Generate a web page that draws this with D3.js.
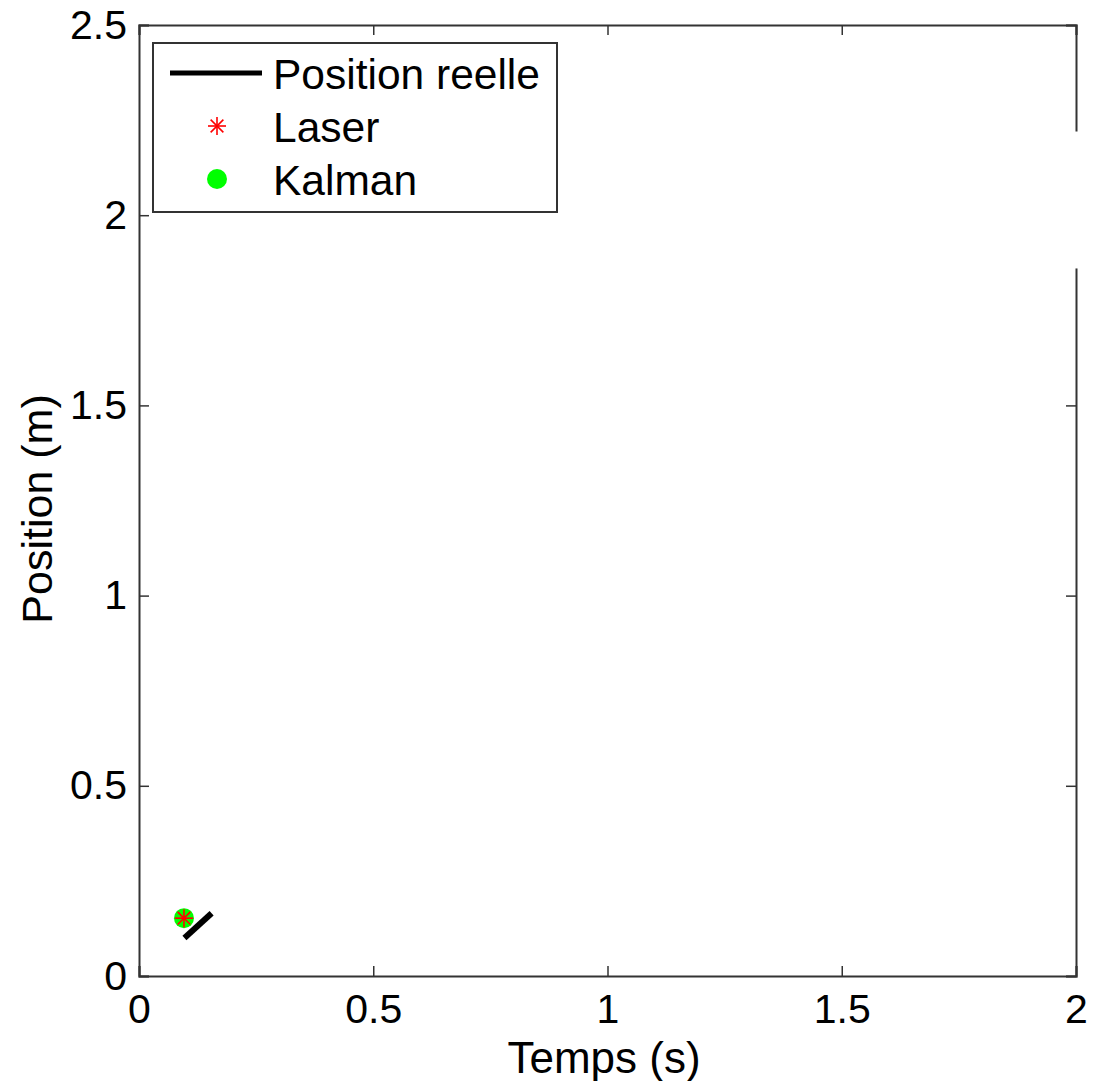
<!DOCTYPE html>
<html>
<head>
<meta charset="utf-8">
<script src="https://cdn.jsdelivr.net/npm/d3@7"></script>
<style>
  body { margin: 0; background: #fff; }
  text { font-family: "Liberation Sans", Arial, sans-serif; }
</style>
</head>
<body>
<div id="chart"></div>
<script>
// data
var reelTime = [0.097, 0.155];
var reelPos = [0.100, 0.165];
var laserTime = [0.096];
var laserPos = [0.152];
var kalmanTime = [0.096];
var kalmanPos = [0.152];

var xTicks = [0, 0.5, 1, 1.5, 2];
var yTicks = [0, 0.5, 1, 1.5, 2, 2.5];
var legendNames = ["Position reelle", "Laser", "Kalman"];

// set-up
var W = 1101, H = 1081;
var margin = {left: 139, top: 25, right: 25, bottom: 105};
var width = W - margin.left - margin.right,
    height = H - margin.top - margin.bottom;
var axisColor = "#333";

var x = d3.scaleLinear().domain([0, 2]).range([0, width]);
var y = d3.scaleLinear().domain([0, 2.5]).range([height, 0]);

var svg = d3.select("#chart").append("svg")
  .attr("width", W).attr("height", H);
var g = svg.append("g")
  .attr("transform", "translate(" + margin.left + "," + margin.top + ")");

// axes (MATLAB style box, ticks inside)
var tickLen = 10;
g.append("g").attr("transform", "translate(0," + height + ")")
  .call(d3.axisBottom(x).tickValues(xTicks).tickSize(-tickLen).tickPadding(18).tickFormat(d3.format("")))
  .call(styleAxis);
g.append("g")
  .call(d3.axisTop(x).tickValues(xTicks).tickSize(-tickLen).tickFormat(""))
  .call(styleAxis);
g.append("g")
  .call(d3.axisLeft(y).tickValues(yTicks).tickSize(-tickLen).tickPadding(12).tickFormat(d3.format("")))
  .call(styleAxis);
g.append("g").attr("transform", "translate(" + width + ",0)")
  .call(d3.axisRight(y).tickValues(yTicks).tickSize(-tickLen).tickFormat(""))
  .call(styleAxis);

function styleAxis(sel) {
  sel.select(".domain").attr("stroke", axisColor).attr("stroke-width", 2);
  sel.selectAll(".tick line").attr("stroke", axisColor).attr("stroke-width", 1.5);
  sel.selectAll(".tick text").attr("fill", "#000").style("font-size", "41px")
    .style("font-family", "'Liberation Sans', Arial, sans-serif");
}

// small break in the right edge, as seen in the picture
g.append("rect")
  .attr("x", width - 14).attr("y", y(2.22))
  .attr("width", 18).attr("height", y(1.86) - y(2.22))
  .attr("fill", "#fff");

// axis labels
g.append("text")
  .attr("x", 604 - margin.left).attr("y", 1073 - margin.top)
  .attr("text-anchor", "middle").style("font-size", "44px")
  .text("Temps (s)");
g.append("text")
  .attr("transform", "translate(" + (52 - margin.left) + "," + (509 - margin.top) + ") rotate(-90)")
  .attr("text-anchor", "middle").style("font-size", "43px")
  .text("Position (m)");

// data marks
var line = d3.line().x(function(d) { return x(d[0]); }).y(function(d) { return y(d[1]); });
g.append("path")
  .datum(d3.zip(reelTime, reelPos))
  .attr("d", line)
  .attr("fill", "none").attr("stroke", "#000").attr("stroke-width", 6);

g.selectAll("circle.kalman")
  .data(d3.zip(kalmanTime, kalmanPos))
  .enter().append("circle").attr("class", "kalman")
  .attr("cx", function(d) { return x(d[0]); })
  .attr("cy", function(d) { return y(d[1]); })
  .attr("r", 10).attr("fill", "#00ff00");

function asterisk(sel, r) {
  [0, 45, 90, 135].forEach(function(deg) {
    var rad = deg * Math.PI / 180;
    sel.append("line")
      .attr("x1", -r * Math.cos(rad)).attr("y1", -r * Math.sin(rad))
      .attr("x2", r * Math.cos(rad)).attr("y2", r * Math.sin(rad))
      .attr("stroke", "#ff0000").attr("stroke-width", 1.6);
  });
}
g.selectAll("g.laser")
  .data(d3.zip(laserTime, laserPos))
  .enter().append("g").attr("class", "laser")
  .attr("transform", function(d) { return "translate(" + x(d[0]) + "," + y(d[1]) + ")"; })
  .each(function() { asterisk(d3.select(this), 9); });

// legend
var leg = svg.append("g").attr("transform", "translate(153,43)");
leg.append("rect")
  .attr("width", 404).attr("height", 169)
  .attr("fill", "#fff").attr("stroke", axisColor).attr("stroke-width", 2);
var rowY = [30, 83, 136];
leg.append("line")
  .attr("x1", 17).attr("x2", 109).attr("y1", rowY[0]).attr("y2", rowY[0])
  .attr("stroke", "#000").attr("stroke-width", 5);
var st = leg.append("g").attr("transform", "translate(64," + rowY[1] + ")");
asterisk(st, 9);
leg.append("circle").attr("cx", 64).attr("cy", rowY[2]).attr("r", 10).attr("fill", "#00ff00");
leg.selectAll("text.lg")
  .data(legendNames)
  .enter().append("text").attr("class", "lg")
  .attr("x", 120)
  .attr("y", function(d, i) { return rowY[i] + 16; })
  .style("font-size", "42.5px")
  .text(function(d) { return d; });
</script>
</body>
</html>
